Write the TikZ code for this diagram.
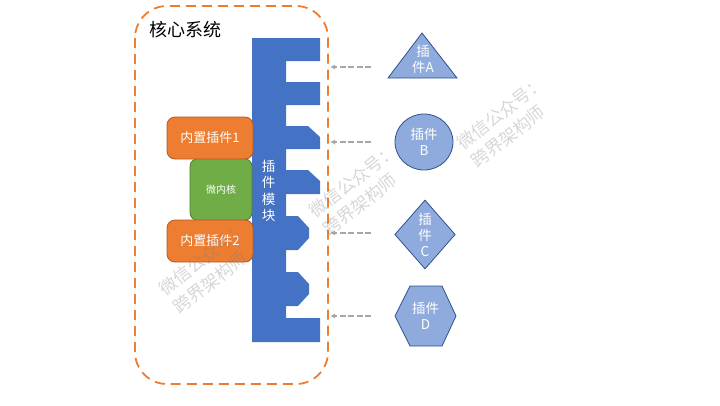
\documentclass[tikz,border=0pt]{standalone}
\usepackage{fontspec}
\setmainfont{Noto Sans CJK SC}
\usepackage{xcolor}
\usetikzlibrary{arrows.meta,shapes.geometric}
\definecolor{coreorange}{HTML}{ED7D31}
\definecolor{coreedge}{HTML}{AE5A21}
\definecolor{kernelgreen}{HTML}{70AD47}
\definecolor{kerneledge}{HTML}{507E32}
\definecolor{moduleblue}{HTML}{4472C4}
\definecolor{pluginblue}{HTML}{8FAADC}
\definecolor{pluginedge}{HTML}{2F528F}
\tikzset{
    builtin/.style={rectangle,draw=coreedge,fill=coreorange,rounded corners=8pt,line width=0.8pt,
        minimum width=86pt,minimum height=42pt,inner sep=0pt,text=white,font=\fontsize{13}{15}\selectfont},
    plugintext/.style={text=white,align=center,inner sep=0pt,font=\fontsize{13.5}{16}\selectfont},
    pluginshape/.style={draw=pluginedge,fill=pluginblue,line width=0.8pt},
    watermark/.style={text=gray,opacity=0.32,rotate=38,align=left,inner sep=0pt,font=\fontsize{17.5}{23}\selectfont},
}
\begin{document}
\begin{tikzpicture}[x=1pt,y=-1pt]
    \useasboundingbox (0,0) rectangle (720,405);

    % Core system outline
    \draw[coreorange,line width=1.8pt,dash pattern=on 10pt off 6pt,rounded corners=32pt] (135,6) rectangle (328,384);
    \node[anchor=west,inner sep=0pt,font=\fontsize{18}{20}\selectfont] (coretitle) at (149.5,30) {核心系统};

    % Plugin module
    \fill[moduleblue] (252,38) -| (320,61) -| (286,82) -| (320,105) -| (286,126)
        -- (308,126) -- (320,137) |- (286,149) |- (308,170) -- (320,181) |- (286,194)
        |- (298,216) -- (309,228) -- (309,238) -- (298,250) -| (286,272)
        -| (298,272) -- (309,284) -- (309,294) -- (298,306) -| (286,318)
        -| (320,342) -| cycle;
    \node[text=white,align=center,inner sep=0pt,font=\fontsize{13.5}{16.4}\selectfont] (module) at (268.5,191) {插\\件\\模\\块};

    % Kernel and built-in plugins
    \node[rectangle,draw=kerneledge,fill=kernelgreen,rounded corners=8pt,line width=0.8pt,minimum width=62pt,minimum height=62pt,
        inner sep=0pt,text=white,font=\fontsize{10}{12}\selectfont] (kernel) at (221,189.5) {微内核};
    \node[builtin] (builtinone) at (210,138) {内置插件1};
    \node[builtin] (builtintwo) at (210,241) {内置插件2};

    % Plugins
    \draw[pluginshape] (422,33) -- (457,78) -- (388,78) -- cycle;
    \node[plugintext] (plugina) at (423,59) {插\\件A};
    \node[ellipse,pluginshape,minimum width=58pt,minimum height=56pt,inner sep=0pt,text=white,align=center,
        font=\fontsize{13.5}{16}\selectfont] (pluginb) at (424,142) {插件\\B};
    \node[diamond,pluginshape,minimum width=60.5pt,minimum height=69pt,aspect=0.877,inner sep=0pt] (pluginc) at (425,234.5) {};
    \node[plugintext] (pluginctext) at (425,235) {插\\件\\C};
    \draw[pluginshape] (395,316) -- (410,286) -- (442,286) -- (456,316) -- (442,346) -- (410,346) -- cycle;
    \node[plugintext] (plugind) at (425.5,316) {插件\\D};

    % Arrows to the core
    \foreach \name/\ypos in {a/67,b/142,c/233,d/316} {
        \coordinate (from\name) at (371,\ypos);
        \coordinate (to\name) at (330,\ypos);
        \draw[-{Latex[length=5pt,width=5pt]},gray!70,line width=1.3pt,dash pattern=on 6pt off 2.5pt] (from\name) -- (to\name);
    }

    % Watermarks
    \foreach \name/\xpos/\ypos in {wone/210/268,wtwo/360/190,wthree/508/122} {
        \node[watermark] (\name) at (\xpos,\ypos) {微信公众号：\\跨界架构师};
    }
\end{tikzpicture}
\end{document}
